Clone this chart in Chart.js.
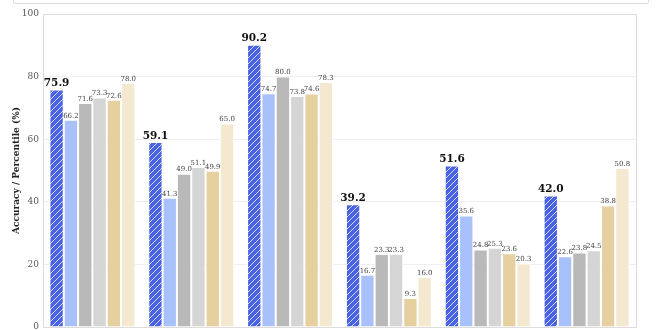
<!DOCTYPE html>
<html>
<head>
<meta charset="utf-8">
<script src="https://cdn.jsdelivr.net/npm/chart.js@4"></script>
<style>
  html, body { margin: 0; padding: 0; background: #fff; overflow: hidden; }
  body { width: 660px; height: 330px; position: relative; }
  #legendBox { position: absolute; left: 13px; top: -24px; width: 634px; height: 26px;
    border: 1px solid #dcdcdc; border-radius: 2px; background: #fff; }
  #wrap { position: absolute; left: 0; top: 0; width: 660px; height: 380px; }
</style>
</head>
<body>
<div id="legendBox"></div>
<div id="wrap"><canvas id="chart"></canvas></div>
<script>
// ===== Data =====
const categories = ['Task A', 'Task B', 'Task C', 'Task D', 'Task E', 'Task F'];
const seriesNames = ['Ours', 'Baseline 1', 'Baseline 2', 'Baseline 3', 'Human (avg)', 'Human (best)'];
const oursValues  = [75.9, 59.1, 90.2, 39.2, 51.6, 42.0];
const base1Values = [66.2, 41.3, 74.7, 16.7, 35.6, 22.6];
const base2Values = [71.6, 49.0, 80.0, 23.3, 24.8, 23.8];
const base3Values = [73.3, 51.1, 73.8, 23.3, 25.3, 24.5];
const humanAvgValues  = [72.6, 49.9, 74.6, 9.3, 23.6, 38.8];
const humanBestValues = [78.0, 65.0, 78.3, 16.0, 20.3, 50.8];
const yTicks = [0, 20, 40, 60, 80, 100];

const SERIF = "'DejaVu Serif', 'Liberation Serif', serif";

// --- Hatched fill for the first series ---
function makeHatch(color) {
  const c = document.createElement('canvas');
  c.width = 6; c.height = 6;
  const g = c.getContext('2d');
  g.fillStyle = color;
  g.fillRect(0, 0, 6, 6);
  g.strokeStyle = 'rgba(255,255,255,0.85)';
  g.lineWidth = 0.9;
  g.beginPath();
  g.moveTo(0, 6); g.lineTo(6, 0);
  g.moveTo(-1, 1); g.lineTo(1, -1);
  g.moveTo(5, 7); g.lineTo(7, 5);
  g.stroke();
  return g.createPattern(c, 'repeat');
}

const seriesValues = [oursValues, base1Values, base2Values, base3Values, humanAvgValues, humanBestValues];
const seriesColors = ['#4a62e4', '#a9c1fa', '#b9b9b9', '#d5d5d5', '#e6d09f', '#f4e9d0'];

// --- Value labels above bars ---
const valueLabels = {
  id: 'valueLabels',
  afterDatasetsDraw(chart) {
    const ctx = chart.ctx;
    ctx.save();
    ctx.textAlign = 'center';
    ctx.textBaseline = 'bottom';
    chart.data.datasets.forEach((ds, i) => {
      const meta = chart.getDatasetMeta(i);
      meta.data.forEach((bar, j) => {
        const v = ds.data[j];
        if (i === 0) {
          ctx.font = 'bold 10.5px ' + SERIF;
          ctx.fillStyle = '#111';
          ctx.fillText(v.toFixed(1), bar.x, bar.y - 1);
        } else {
          ctx.font = '7px ' + SERIF;
          ctx.fillStyle = '#444';
          ctx.fillText(v.toFixed(1), bar.x, bar.y - 0.5);
        }
      });
    });
    ctx.restore();
  }
};

// --- Frame around the plot area ---
const plotFrame = {
  id: 'plotFrame',
  afterDraw(chart) {
    const a = chart.chartArea, ctx = chart.ctx;
    ctx.save();
    ctx.strokeStyle = '#dddddd';
    ctx.lineWidth = 1;
    ctx.strokeRect(Math.round(a.left) + 0.5, Math.round(a.top) + 0.5,
      Math.round(a.right - a.left), Math.round(a.bottom - a.top));
    ctx.restore();
  }
};

const ctx = document.getElementById('chart').getContext('2d');
new Chart(ctx, {
  type: 'bar',
  data: {
    labels: categories,
    datasets: seriesValues.map((vals, i) => ({
      label: seriesNames[i],
      data: vals,
      backgroundColor: i === 0 ? makeHatch(seriesColors[0]) : seriesColors[i],
      borderColor: '#ffffff',
      borderWidth: 1,
      borderSkipped: 'bottom',
      categoryPercentage: 0.87,
      barPercentage: 1.0
    }))
  },
  options: {
    responsive: true,
    maintainAspectRatio: false,
    animation: false,
    layout: { padding: { top: 14, right: 24, left: 9, bottom: 0 } },
    plugins: {
      legend: { display: false },
      tooltip: { enabled: false }
    },
    scales: {
      x: {
        grid: { display: false },
        border: { display: false },
        ticks: { color: '#333', font: { family: SERIF, size: 9 } },
        afterFit: s => { s.height = 53; }
      },
      y: {
        min: 0,
        max: 100,
        afterBuildTicks: s => { s.ticks = yTicks.map(v => ({ value: v })); },
        grid: { color: '#efefef', lineWidth: 1, drawTicks: false },
        border: { display: false },
        ticks: { color: '#555', padding: 4, font: { family: SERIF, size: 9 } },
        title: {
          display: true,
          text: 'Accuracy / Percentile (%)',
          color: '#222',
          padding: { top: 2, bottom: 0 },
          font: { family: SERIF, size: 9, weight: 'bold' }
        },
        afterFit: s => { s.width = 34; }
      }
    }
  },
  plugins: [valueLabels, plotFrame]
});
</script>
</body>
</html>
